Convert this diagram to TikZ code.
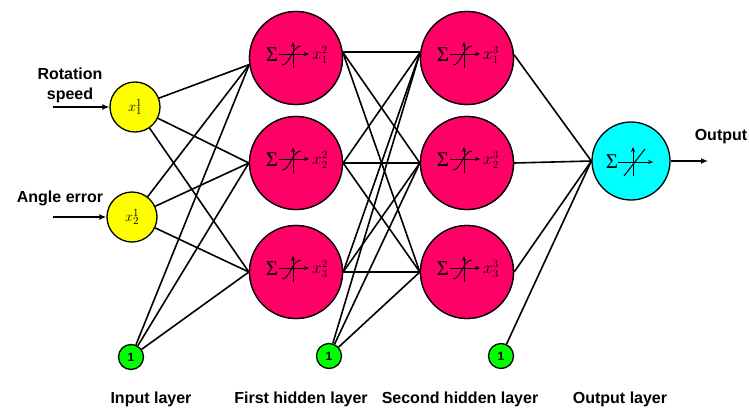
\documentclass[tikz,border=0pt]{standalone}
\usepackage{fontspec}
\setmainfont{Liberation Sans}
\newfontfamily\lserif{Liberation Serif}
\usetikzlibrary{arrows.meta}

\definecolor{hidpink}{RGB}{255,0,102}
\definecolor{inyellow}{RGB}{255,255,0}
\definecolor{outcyan}{RGB}{0,255,255}
\definecolor{biasgreen}{RGB}{0,255,0}

\tikzset{
  neuron/.style={circle, draw=black, line width=1.3pt, inner sep=0pt},
  inp/.style={neuron, fill=inyellow, minimum size=50pt, font=\fontsize{15}{15}\selectfont},
  hid/.style={neuron, fill=hidpink, minimum size=93pt},
  outn/.style={neuron, fill=outcyan, minimum size=78pt},
  bias/.style={neuron, fill=biasgreen, minimum size=25pt, font=\fontsize{12}{12}\selectfont\bfseries},
  link/.style={line width=1.6pt},
  feed/.style={line width=1.6pt, -{Latex[length=7pt,width=6pt]}},
  lbl/.style={font=\fontsize{16}{20}\selectfont\bfseries, align=center, inner sep=0pt},
  axis/.style={line width=0.8pt},
  axarrow/.style={axis, -{Stealth[length=5pt,width=4pt]}},
  sumsign/.style={font=\lserif\fontsize{21}{21}\selectfont, inner sep=0pt},
  idx/.style={font=\fontsize{16}{16}\selectfont, inner sep=0pt},
}

% sigmoid neuron symbol: sum sign, sigmoid with axes, output name
\newcommand\hidmark[2]{%
  \begin{scope}[shift={(#1.center)}]
    \node[sumsign] (#1sum) at (-24,-3) {Σ};
    \draw[axarrow] (-3,10) -- (-3,-16);
    \draw[axarrow] (-17,-4) -- (13,-4);
    \draw[line width=0.9pt] (-14,7) .. controls (-6,7) and (-4,-12) .. (5,-12);
    \node[idx] (#1lab) at (24,-3) {$#2$};
  \end{scope}}

% linear neuron symbol for the output unit
\newcommand\outmark[1]{%
  \begin{scope}[shift={(#1.center)}]
    \node[sumsign] (#1sum) at (-19,1) {Σ};
    \draw[axarrow] (2,15) -- (2,-14);
    \draw[axarrow] (-13,1) -- (22,1);
    \draw[line width=1pt] (-7,15) -- (14,-12);
  \end{scope}}

\begin{document}
\begin{tikzpicture}[x=1pt, y=-1pt]
  \useasboundingbox (0,0) rectangle (749,412);

  % input layer
  \node[inp] (x1) at (135,107) {$x_1^1$};
  \node[inp] (x2) at (132,217) {$x_2^1$};
  \node[bias] (b1) at (131,357) {1};

  % first hidden layer
  \node[hid] (h11) at (296,58) {};
  \node[hid] (h12) at (296,163) {};
  \node[hid] (h13) at (296,272) {};
  \node[bias] (b2) at (329,356) {1};

  % second hidden layer
  \node[hid] (h21) at (467,58) {};
  \node[hid] (h22) at (467,163) {};
  \node[hid] (h23) at (467,272) {};
  \node[bias] (b3) at (501,356) {1};

  % output layer
  \node[outn] (o) at (631,161) {};

  % meeting points of the links on each unit
  \coordinate (h11w) at (h11.188);
  \coordinate (h12w) at (h12.west);
  \coordinate (h13w) at (h13.west);
  \coordinate (h11e) at (h11.7);
  \coordinate (h12e) at (h12.east);
  \coordinate (h13e) at (h13.east);
  \coordinate (h21w) at (h21.173);
  \coordinate (h22w) at (h22.west);
  \coordinate (h23w) at (h23.west);
  \coordinate (h21e) at (h21.4);
  \coordinate (h22e) at (h22.east);
  \coordinate (h23e) at (h23.east);

  % links: input -> first hidden
  \foreach \s in {x1,x2,b1}
    \foreach \t in {h11w,h12w,h13w}
      \draw[link] (\s) -- (\t);

  % links: first hidden -> second hidden
  \foreach \s in {h11e,h12e,h13e}
    \foreach \t in {h21w,h22w,h23w}
      \draw[link] (\s) -- (\t);
  \foreach \t in {h21w,h22w,h23w}
    \draw[link] (b2) -- (\t);

  % links: second hidden -> output
  \foreach \s in {h21e,h22e,h23e}
    \draw[link] (\s) -- (o.west);
  \draw[link] (b3) -- (o.west);

  % redraw units on top of the links
  \node[hid] at (h11) {};
  \node[hid] at (h12) {};
  \node[hid] at (h13) {};
  \node[hid] at (h21) {};
  \node[hid] at (h22) {};
  \node[hid] at (h23) {};

  \hidmark{h11}{x_1^2}
  \hidmark{h12}{x_2^2}
  \hidmark{h13}{x_3^2}
  \hidmark{h21}{x_1^3}
  \hidmark{h22}{x_2^3}
  \hidmark{h23}{x_3^3}
  \outmark{o}

  % external inputs and output
  \coordinate (in1) at (53,107);
  \coordinate (in2) at (53,217);
  \coordinate (outend) at (708,161);
  \draw[feed] (in1) -- (x1);
  \draw[feed] (in2) -- (x2);
  \draw[feed] (o) -- (outend);

  \node[lbl] (lrs) at (70,85) {Rotation\\speed};
  \node[lbl] (lae) at (60,198) {Angle error};
  \node[lbl] (lout) at (721,137) {Output};

  % layer captions
  \node[lbl] (c1) at (151,399) {Input layer};
  \node[lbl] (c2) at (301,399) {First hidden layer};
  \node[lbl] (c3) at (460,399) {Second hidden layer};
  \node[lbl] (c4) at (620,399) {Output layer};
\end{tikzpicture}
\end{document}
